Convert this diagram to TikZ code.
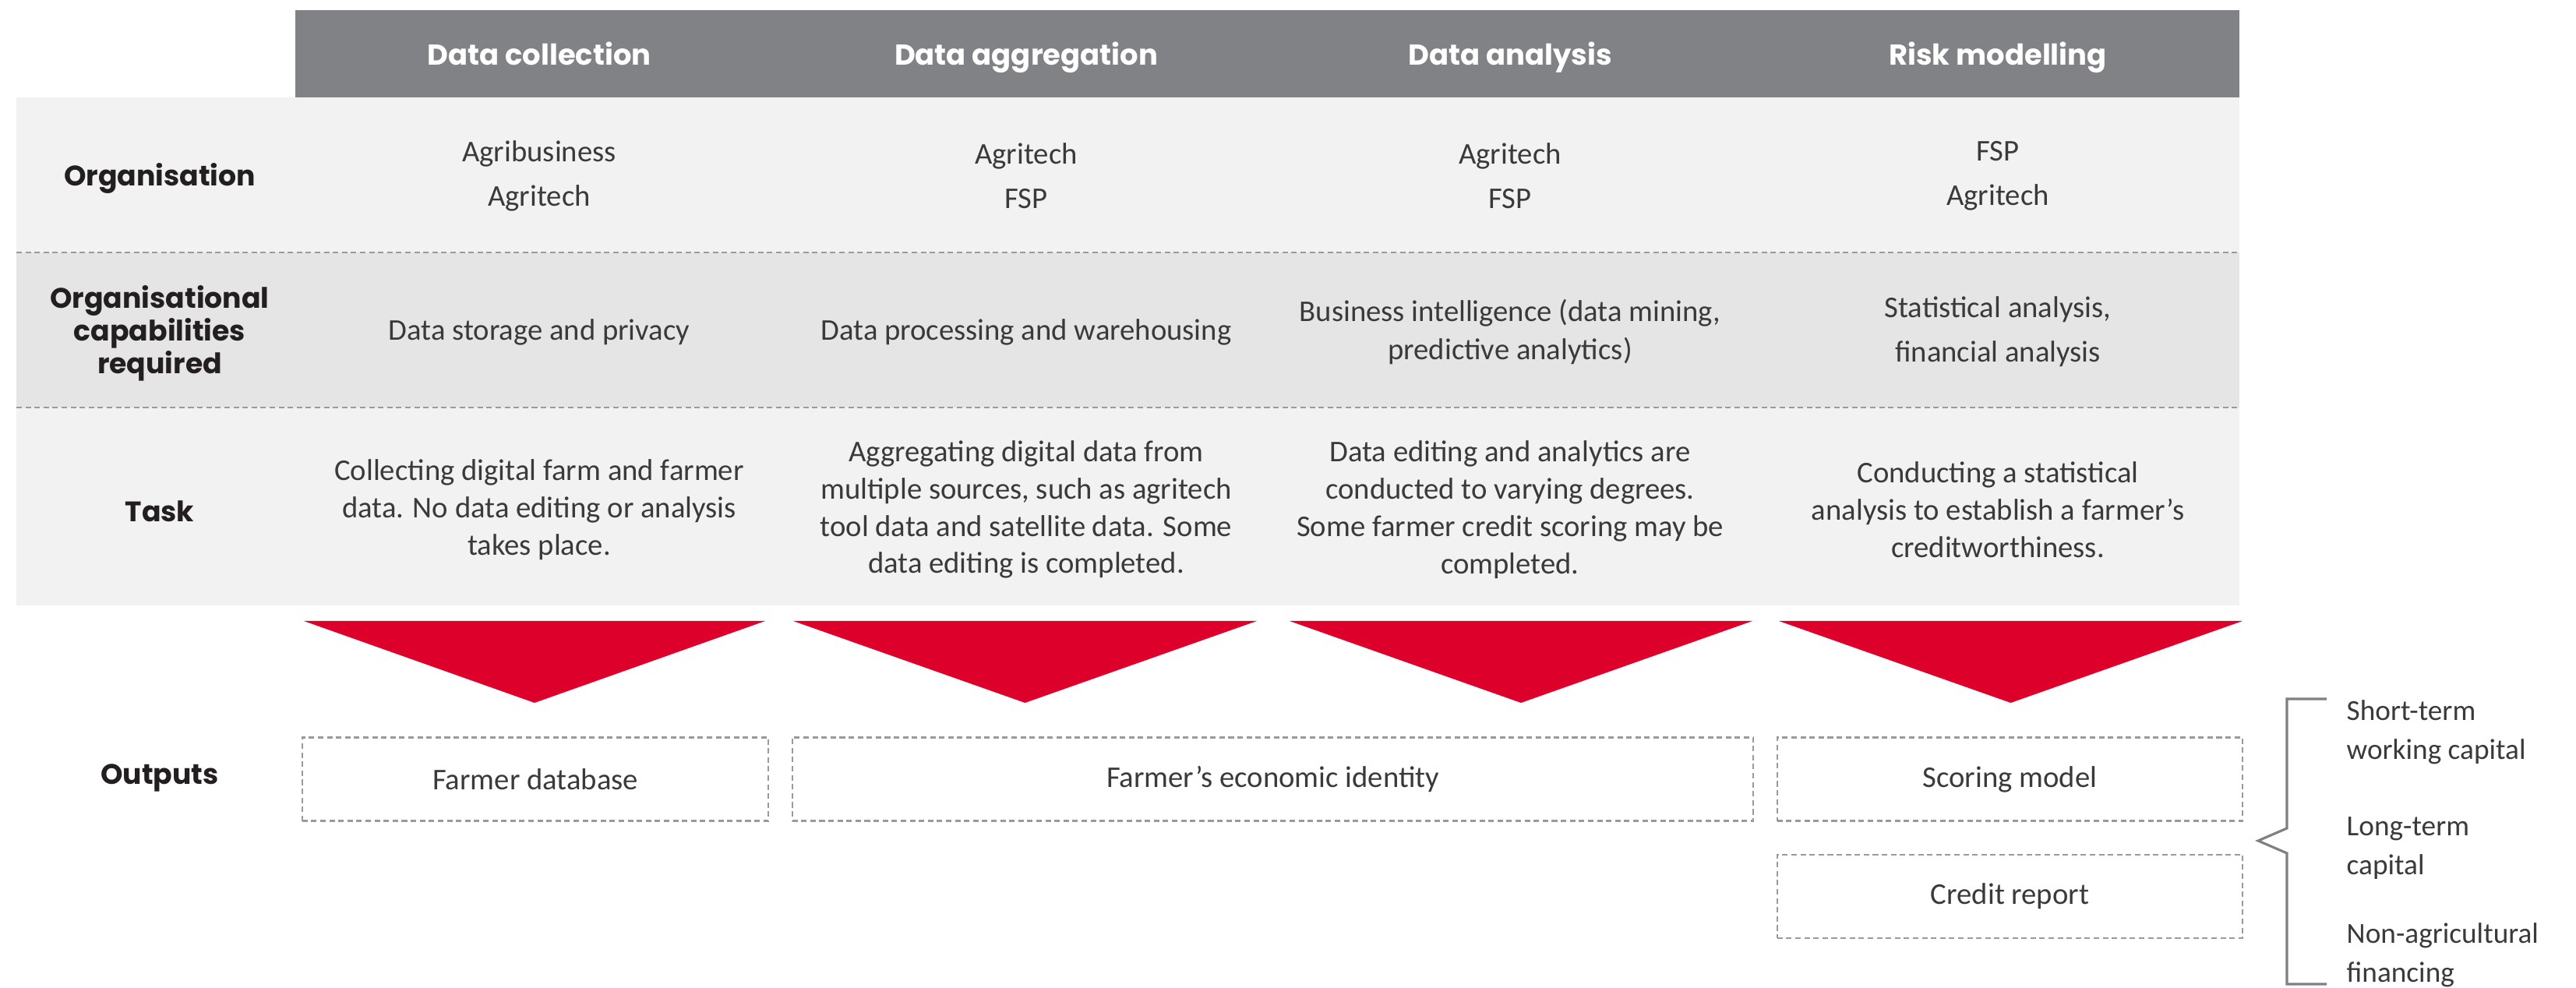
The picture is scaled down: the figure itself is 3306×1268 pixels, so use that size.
\documentclass[tikz,border=0pt]{standalone}
\usepackage{fontspec}
\setmainfont{Carlito}
\newfontfamily\headfont{Poppins}
\usepackage{tikz}
\usetikzlibrary{positioning,calc}
\definecolor{hdgray}{HTML}{818286}
\definecolor{palerow}{HTML}{F1F2F1}
\definecolor{midrow}{HTML}{E5E5E5}
\definecolor{sepgray}{HTML}{9A9A9A}
\definecolor{fspred}{HTML}{DC002B}
\definecolor{inktext}{HTML}{3A3A3A}
\definecolor{inkdark}{HTML}{231F20}
\tikzset{
  headtxt/.style ={text=white,anchor=base,font=\headfont\bfseries\fontsize{10.5}{12}\selectfont},
  rowlab/.style  ={text=inkdark,align=center,font=\headfont\bfseries\fontsize{10.3}{12}\selectfont},
  cell/.style    ={text=inktext,align=center,inner sep=0pt,font=\fontsize{11}{13.6}\selectfont},
  cellwide/.style={cell,font=\fontsize{11}{16.2}\selectfont},
  outbox/.style  ={draw=sepgray,dash pattern=on 2pt off 1.3pt,line width=0.6pt,
                   minimum height=1.07cm,inner sep=0pt,text=inktext,font=\fontsize{11}{13.6}\selectfont},
  sepline/.style ={draw=sepgray,dash pattern=on 2pt off 1.3pt,line width=0.6pt},
  wedge/.style   ={fill=fspred},
  brace/.style   ={draw=gray,line width=0.9pt},
  fintxt/.style  ={text=inktext,align=left,anchor=west,inner sep=0pt,font=\fontsize{10.6}{14.2}\selectfont}
}

\begin{document}
\begin{tikzpicture}[x=0.01cm,y=-0.01cm]
  \useasboundingbox (0,0) rectangle (3306,1268);
  % table bands
  \fill[hdgray] (379,13) rectangle (2874,125);
  \fill[palerow] (21,125) rectangle (2874,324);
  \fill[midrow] (21,324) rectangle (2874,523);
  \fill[palerow] (21,523) rectangle (2874,777);
  \draw[sepline] (21,324) -- (2874,324);
  \draw[sepline] (21,523) -- (2874,523);

  % column heads
  \node[headtxt] (hcoll) at (692,84) {Data collection};
  \node[headtxt] (haggr) at (1317,84) {Data aggregation};
  \node[headtxt] (hanal) at (1938,84) {Data analysis};
  \node[headtxt] (hrisk) at (2564,84) {Risk modelling};

  % row labels
  \node[rowlab] (lorg) at (205,229) {Organisation};
  \node[rowlab] (lcap) at (205,428) {Organisational\\capabilities\\required};
  \node[rowlab] (ltask) at (205,656) {Task};
  \node[rowlab] (lout) at (205,998) {Outputs};

  % organisation
  \node[cellwide] (org1) at (692,226) {Agribusiness\\Agritech};
  \node[cellwide] (org2) at (1317,226) {Agritech\\FSP};
  \node[cellwide] (org3) at (1938,226) {Agritech\\FSP};
  \node[cellwide] (org4) at (2564,226) {FSP\\Agritech};

  % capabilities
  \node[cell] (cap1) at (692,426) {Data storage and privacy};
  \node[cell] (cap2) at (1317,426) {Data processing and warehousing};
  \node[cell,font=\fontsize{11}{14.2}\selectfont] (cap3) at (1938,426) {Business intelligence (data mining,\\predictive analytics)};
  \node[cellwide] (cap4) at (2564,426) {Statistical analysis,\\financial analysis};

  % tasks
  \node[cell] (task1) at (692,654) {Collecting digital farm and farmer\\data. No data editing or analysis\\takes place.};
  \node[cell] (task2) at (1317,654) {Aggregating digital data from\\multiple sources, such as agritech\\tool data and satellite data. Some\\data editing is completed.};
  \node[cell] (task3) at (1938,654) {Data editing and analytics are\\conducted to varying degrees.\\Some farmer credit scoring may be\\completed.};
  \node[cell] (task4) at (2564,654) {Conducting a statistical\\analysis to establish a farmer’s\\creditworthiness.};

  % red wedges
  \foreach \l/\r in {390/982,1018/1613,1655/2249,2283/2878}
    \fill[wedge] (\l,797) -- (\r,797) -- ({(\l+\r)/2},902) -- cycle;

  % outputs
  \node[outbox,minimum width=5.98cm] (odb) at (687,1000) {Farmer database};
  \node[outbox,minimum width=12.33cm] (oid) at (1633.5,1000) {Farmer’s economic identity};
  \node[outbox,minimum width=5.97cm] (oscore) at (2579.5,1000) {Scoring model};
  \node[outbox,minimum width=5.97cm,below=0.41cm of oscore] (ocredit) {Credit report};

  % financing bracket
  \coordinate (btop) at (2986,897);
  \coordinate (btip) at (2898,1079);
  \coordinate (bbot) at (2986,1263);
  \draw[brace] (btop) -- (2935,897) -- (2935,1063) -- (btip) -- (2935,1095) -- (2935,1263) -- (bbot);
  \node[fintxt] (fshort) at (3011,940) {Short-term\\working capital};
  \node[fintxt] (flong) at (3011,1089) {Long-term\\capital};
  \node[fintxt] (fnonag) at (3011,1226) {Non-agricultural\\financing};
\end{tikzpicture}
\end{document}
